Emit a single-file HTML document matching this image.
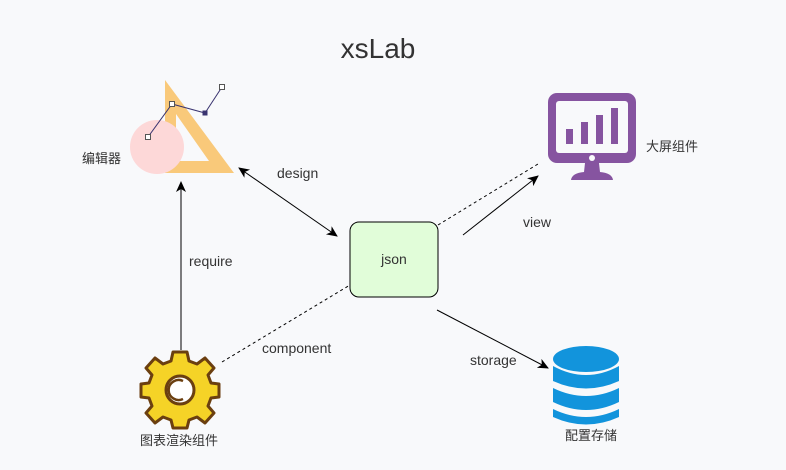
<!DOCTYPE html>
<html><head><style>body{margin:0;background:#f8f9fb;}svg{display:block}text{font-family:"Liberation Sans","Noto Sans CJK SC",sans-serif;fill:#333}</style></head>
<body>
<svg width="786" height="470" viewBox="0 0 786 470" xmlns="http://www.w3.org/2000/svg">
<defs><marker id="a" markerWidth="12" markerHeight="12" refX="10" refY="6" orient="auto-start-reverse" markerUnits="userSpaceOnUse"><path d="M0,1 L11,6 L0,11 L3,6z" fill="#000"/></marker></defs>
<text x="378" y="58" font-size="28" text-anchor="middle" fill="#444">xsLab</text>
<!-- editor -->
<path d="M165,80 L234,173 L165,173 Z M176,114 L176,161 L209,161 Z" fill="#f9c97a" fill-rule="evenodd"/>
<circle cx="157" cy="147" r="27" fill="#fdd8d8"/>
<polyline points="148,137 172,104 205,113 222,87" fill="none" stroke="#3a3470" stroke-width="1"/>
<rect x="145.5" y="134.5" width="5" height="5" fill="#fff" stroke="#555"/>
<rect x="169.5" y="101.5" width="5" height="5" fill="#fff" stroke="#555"/>
<rect x="202.5" y="110.5" width="5" height="5" fill="#3a3470"/>
<rect x="219.5" y="84.5" width="5" height="5" fill="#fff" stroke="#555"/>
<text x="82" y="163" font-size="13">编辑器</text>
<!-- json -->
<rect x="350" y="222" width="88" height="75" rx="9" fill="#e1fdd9" stroke="#000"/>
<text x="394" y="264" font-size="14" text-anchor="middle">json</text>
<!-- connectors -->
<line x1="239" y1="168" x2="337" y2="236" stroke="#000" marker-start="url(#a)" marker-end="url(#a)"/>
<text x="277" y="178" font-size="14">design</text>
<line x1="181" y1="350" x2="181" y2="182" stroke="#000" marker-end="url(#a)"/>
<text x="189" y="266" font-size="14">require</text>
<line x1="463" y1="235" x2="538" y2="176" stroke="#000" marker-end="url(#a)"/>
<text x="523" y="227" font-size="14">view</text>
<line x1="438" y1="225" x2="538" y2="164" stroke="#000" stroke-dasharray="3,3"/>
<line x1="222" y1="362" x2="350" y2="285" stroke="#000" stroke-dasharray="3,3"/>
<text x="262" y="353" font-size="14">component</text>
<line x1="437" y1="310" x2="548" y2="368" stroke="#000" marker-end="url(#a)"/>
<text x="470" y="365" font-size="14">storage</text>
<!-- monitor -->
<rect x="548" y="93" width="88" height="70" rx="9" fill="#8654a0"/>
<rect x="556" y="101" width="72" height="52" rx="3" fill="#f8f9fb"/>
<rect x="566" y="129" width="7" height="15" fill="#8654a0"/>
<rect x="581" y="122" width="7" height="22" fill="#8654a0"/>
<rect x="596" y="115" width="7" height="29" fill="#8654a0"/>
<rect x="611" y="108" width="7" height="36" fill="#8654a0"/>
<circle cx="592" cy="158" r="3" fill="#f8f9fb"/>
<path d="M585,163 L599,163 L600,172 Q612,173 613,180 L571,180 Q572,173 584,172 Z" fill="#8654a0"/>
<text x="646" y="151" font-size="13">大屏组件</text>
<!-- database -->
<g fill="#1294dc">
<ellipse cx="586" cy="359" rx="33" ry="13"/>
<path d="M553,366 Q586,384 619,366 L619,381 Q586,396 553,381 Z"/>
<path d="M553,388 Q586,404 619,388 L619,402 Q586,418 553,402 Z"/>
<path d="M553,409 Q586,425 619,409 L619,417 Q586,432 553,417 Z"/>
</g>
<text x="565" y="440" font-size="13">配置存储</text>
<!-- gear -->
<g transform="translate(180,390)">
<g fill="#f5d327" stroke="#6b3f10" stroke-width="3" stroke-linejoin="round">
<path d="M-7,-38 L7,-38 L9,-29 L17,-26 L25,-32 L34,-22 L28,-15 L31,-7 L39,-6 L39,7 L31,8 L28,16 L34,23 L25,33 L17,27 L9,30 L7,38 L-7,38 L-9,30 L-17,27 L-25,33 L-34,23 L-28,16 L-31,8 L-39,7 L-39,-6 L-31,-7 L-28,-15 L-34,-22 L-25,-32 L-17,-26 L-9,-29 Z"/>
</g>
<circle r="14" fill="#fff" stroke="#6b3f10" stroke-width="3"/>
<path d="M3,-9 A10,10 0 1 0 3,9" fill="none" stroke="#6b3f10" stroke-width="2.5"/>
</g>
<text x="140" y="445" font-size="13">图表渲染组件</text>
</svg>
</body></html>
